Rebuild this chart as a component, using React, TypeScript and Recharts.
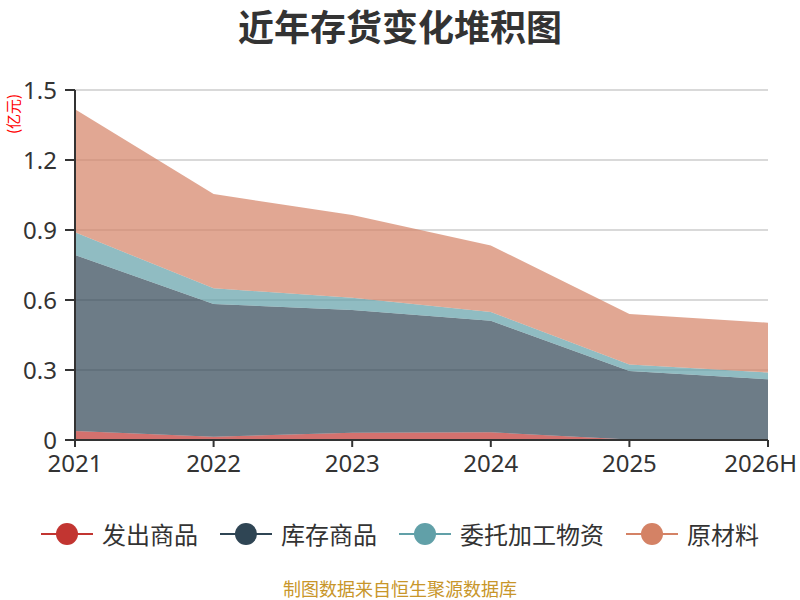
import React from 'react';
import { AreaChart, Area, XAxis, YAxis, CartesianGrid } from 'recharts';

const years = ['2021', '2022', '2023', '2024', '2025', '2026H'];
const faChu = [0.039, 0.014, 0.031, 0.033, 0.002, 0.001];
const kuCun = [0.754, 0.569, 0.526, 0.478, 0.294, 0.259];
const weiTuo = [0.097, 0.067, 0.053, 0.038, 0.028, 0.029];
const yuanCai = [0.527, 0.404, 0.354, 0.285, 0.216, 0.214];
const yTicks = [0, 0.3, 0.6, 0.9, 1.2, 1.5];

const seriesNames = ['发出商品', '库存商品', '委托加工物资', '原材料'];
const seriesColors = ['#c23531', '#2f4554', '#61a0a8', '#d48265'];
const seriesKeys = ['faChu', 'kuCun', 'weiTuo', 'yuanCai'];

const data = years.map((y, i) => ({
  year: y,
  faChu: faChu[i],
  kuCun: kuCun[i],
  weiTuo: weiTuo[i],
  yuanCai: yuanCai[i],
}));

const FONT = '"Noto Sans CJK SC", "Noto Sans", sans-serif';
const NUMFONT = '"Noto Sans", "Open Sans", sans-serif';

const XTick = (props: any) => {
  const { x, y, payload, index } = props;
  const last = index === years.length - 1;
  return (
    <text
      x={last ? x + 29 : x}
      y={y}
      dy="0.71em"
      textAnchor={last ? 'end' : 'middle'}
      fill="#333"
      fontSize={24}
      fontFamily={NUMFONT}
    >
      {payload.value}
    </text>
  );
};

export default function App() {
  return (
    <div style={{ position: 'absolute', left: 0, top: 0, width: 800, height: 600, background: '#fff', fontFamily: FONT }}>
      <div style={{ position: 'absolute', left: 0, top: 0, width: 800, textAlign: 'center', fontSize: 36, fontWeight: 'bold', color: '#333', lineHeight: '50px' }}>
        近年存货变化堆积图
      </div>
      <div style={{ position: 'absolute', left: 13, top: 114, width: 0, height: 0 }}>
        <div style={{ position: 'absolute', transform: 'translate(-50%, -50%) rotate(-90deg)', color: '#ff0000', fontSize: 15, whiteSpace: 'nowrap', lineHeight: '16px' }}>
          (亿元)
        </div>
      </div>
      <div style={{ position: 'absolute', left: 0, top: 0 }}>
        <AreaChart width={800} height={600} data={data} margin={{ top: 90, right: 32, left: 0, bottom: 130 }}>
          <CartesianGrid vertical={false} stroke="#cccccc" strokeWidth={1.5} />
          <XAxis
            dataKey="year"
            axisLine={{ stroke: '#333', strokeWidth: 2 }}
            tickLine={{ stroke: '#333', strokeWidth: 2 }}
            tickSize={7}
            tickMargin={8}
            tick={<XTick />}
            height={30}
            interval={0}
          />
          <YAxis
            domain={[0, 1.5]}
            ticks={yTicks}
            width={75}
            axisLine={{ stroke: '#333', strokeWidth: 2 }}
            tickLine={{ stroke: '#333', strokeWidth: 2 }}
            tickSize={10}
            tickMargin={8}
            tick={{ fill: '#333', fontSize: 24, fontFamily: NUMFONT }}
            tickFormatter={(v: number) => (v === 0 ? '0' : v.toFixed(1))}
          />
          {seriesKeys.map((k, i) => (
            <Area
              key={k}
              type="linear"
              dataKey={k}
              name={seriesNames[i]}
              stackId="1"
              stroke="none"
              fill={seriesColors[i]}
              fillOpacity={0.7}
              isAnimationActive={false}
              dot={false}
              activeDot={false}
            />
          ))}
        </AreaChart>
      </div>
      <div style={{ position: 'absolute', left: 0, top: 516, width: 800, display: 'flex', justifyContent: 'center', alignItems: 'center' }}>
        {seriesNames.map((n, i) => (
          <div key={n} style={{ display: 'flex', alignItems: 'center', marginRight: i < 3 ? 22 : 0 }}>
            <svg width={52} height={26}>
              <line x1={0} y1={13} x2={52} y2={13} stroke={seriesColors[i]} strokeWidth={2} />
              <circle cx={26} cy={13} r={11} fill={seriesColors[i]} />
            </svg>
            <span style={{ marginLeft: 9, fontSize: 24, color: '#333', lineHeight: '36px' }}>{n}</span>
          </div>
        ))}
      </div>
      <div style={{ position: 'absolute', left: 0, top: 577, width: 800, textAlign: 'center', fontSize: 18, color: '#c8962a', lineHeight: '22px' }}>
        制图数据来自恒生聚源数据库
      </div>
    </div>
  );
}
